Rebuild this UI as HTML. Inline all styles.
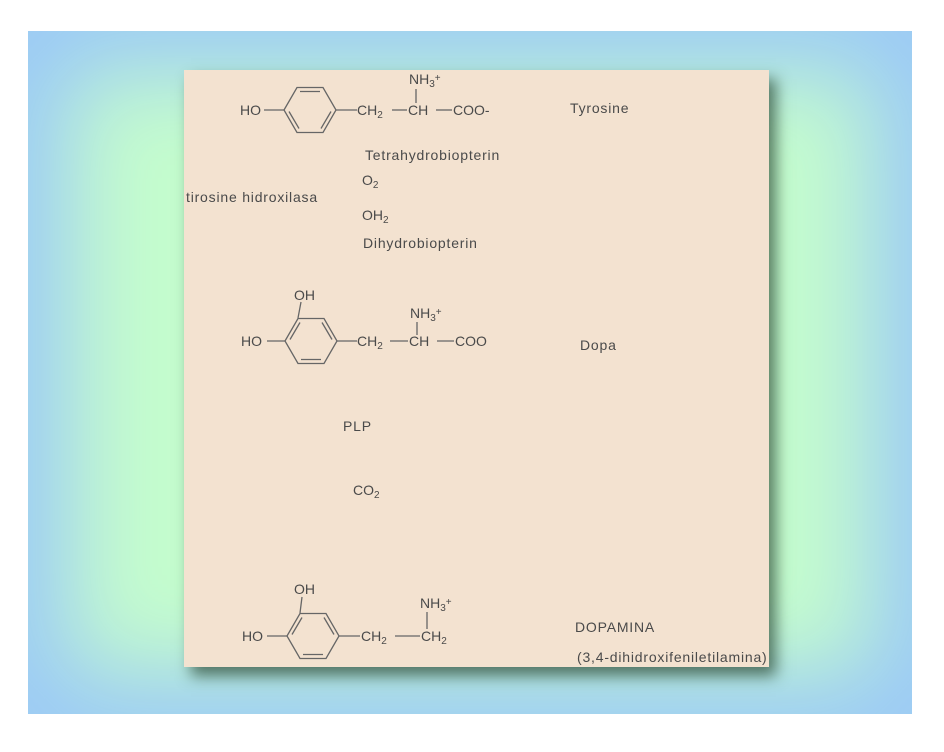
<!DOCTYPE html>
<html><head><meta charset="utf-8"><style>
html,body{margin:0;padding:0;background:#fff;}
body{width:944px;height:752px;position:relative;overflow:hidden;}
#bg{position:absolute;left:28px;top:31px;width:884px;height:683px;background:#c4fcce;box-shadow:inset 0 0 90px 40px #9ccaf6;}
#panel{position:absolute;left:184px;top:70px;width:585px;height:597px;background:#f3e2d0;box-shadow:7px 9px 14px rgba(40,70,50,0.7);}
svg{position:absolute;left:0;top:0;}
text{font-family:"Liberation Sans",sans-serif;font-size:14px;fill:#4a4a4a;}
.l{letter-spacing:0.8px;}
.s{font-size:10px;}
</style></head><body>
<div id="bg"></div><div id="panel"></div>
<svg width="944" height="752" viewBox="0 0 944 752">
<defs>
<g id="hexA" fill="none" stroke="#666" stroke-width="1.3">
<polygon points="-26,0 -13,-22.5 13,-22.5 26,0 13,22.5 -13,22.5"/>
<line x1="-10" y1="-18.5" x2="10" y2="-18.5"/>
<line x1="21" y1="1.5" x2="11" y2="18.5"/>
<line x1="-21" y1="1.5" x2="-11" y2="18.5"/>
</g>
<g id="hexB" fill="none" stroke="#666" stroke-width="1.3">
<polygon points="-26,0 -13,-22.5 13,-22.5 26,0 13,22.5 -13,22.5"/>
<line x1="-21" y1="-1.5" x2="-11" y2="-18.5"/>
<line x1="21" y1="-1.5" x2="11" y2="-18.5"/>
<line x1="-10" y1="18.5" x2="10" y2="18.5"/>
</g>
</defs>
<g stroke="#666" stroke-width="1.3">
<line x1="264" y1="110" x2="284" y2="110"/>
<line x1="336" y1="110" x2="357" y2="110"/>
<line x1="392" y1="110" x2="407" y2="110"/>
<line x1="436" y1="110" x2="452" y2="110"/>
<line x1="416" y1="89" x2="416" y2="103"/>
<line x1="267" y1="341" x2="285" y2="341"/>
<line x1="298" y1="318" x2="301" y2="302"/>
<line x1="337" y1="341" x2="357" y2="341"/>
<line x1="390" y1="341" x2="408" y2="341"/>
<line x1="437" y1="341" x2="454" y2="341"/>
<line x1="417" y1="322" x2="417" y2="335"/>
<line x1="267" y1="636" x2="287" y2="636"/>
<line x1="300" y1="613" x2="302" y2="597"/>
<line x1="339" y1="636" x2="360" y2="636"/>
<line x1="395" y1="636" x2="420" y2="636"/>
<line x1="427" y1="612" x2="427" y2="629"/>
</g>
<use href="#hexA" x="310" y="110"/>
<use href="#hexB" x="311" y="341"/>
<use href="#hexB" x="313" y="636"/>

<text x="240" y="115">HO</text>
<text x="357" y="115">CH<tspan class="s" dy="3">2</tspan></text>
<text x="408" y="115">CH</text>
<text x="453" y="115">COO-</text>
<text x="409" y="84">NH<tspan class="s" dy="3">3</tspan><tspan class="s" dy="-6">+</tspan></text>
<text class="l" x="570" y="113">Tyrosine</text>
<text class="l" x="365" y="160">Tetrahydrobiopterin</text>
<text x="362" y="185">O<tspan class="s" dy="3">2</tspan></text>
<text class="l" x="186" y="202">tirosine hidroxilasa</text>
<text x="362" y="220">OH<tspan class="s" dy="3">2</tspan></text>
<text class="l" x="363" y="248">Dihydrobiopterin</text>

<text x="294" y="300">OH</text>
<text x="241" y="346">HO</text>
<text x="357" y="346">CH<tspan class="s" dy="3">2</tspan></text>
<text x="409" y="346">CH</text>
<text x="455" y="346">COO</text>
<text x="410" y="318">NH<tspan class="s" dy="3">3</tspan><tspan class="s" dy="-6">+</tspan></text>
<text class="l" x="580" y="350">Dopa</text>
<text class="l" x="343" y="431">PLP</text>
<text x="353" y="495">CO<tspan class="s" dy="3">2</tspan></text>

<text x="294" y="594">OH</text>
<text x="242" y="641">HO</text>
<text x="361" y="641">CH<tspan class="s" dy="3">2</tspan></text>
<text x="421" y="641">CH<tspan class="s" dy="3">2</tspan></text>
<text x="420" y="608">NH<tspan class="s" dy="3">3</tspan><tspan class="s" dy="-6">+</tspan></text>
<text class="l" x="575" y="632">DOPAMINA</text>
<text class="l" x="577" y="662">(3,4-dihidroxifeniletilamina)</text>
</svg>
</body></html>
